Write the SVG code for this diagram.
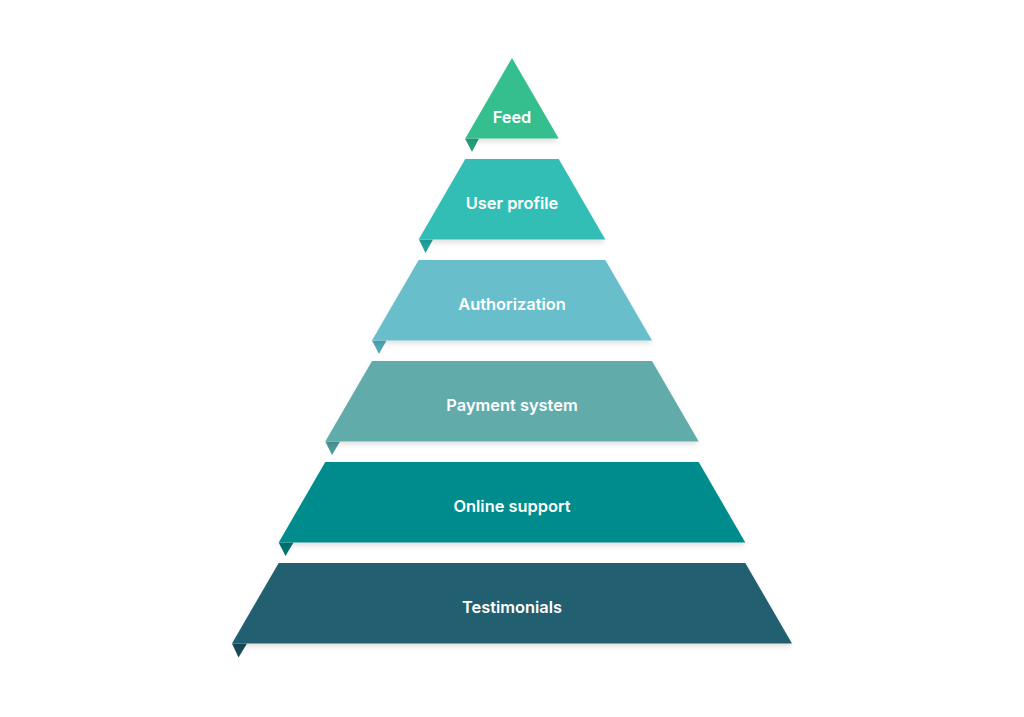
<svg xmlns="http://www.w3.org/2000/svg" width="1024" height="717" viewBox="0 0 1024 717">
<defs>
<filter id="sh" x="-10%" y="-10%" width="120%" height="140%">
<feDropShadow dx="0" dy="3" stdDeviation="2.5" flood-color="#000" flood-opacity="0.12"/>
</filter>
</defs>
<style>
text{font-family:Inter,"Noto Sans","Liberation Sans",sans-serif;font-weight:600;font-size:16.4px;fill:#fff;text-anchor:middle}
.band{filter:url(#sh)}
</style>
<rect width="1024" height="717" fill="#fff"/>
<g id="feed">
<polygon points="479,138.5 472,152 465,138.5" fill="#25A07A"/>
<polygon class="band" points="512,58 558.7,138.5 465.3,138.5" fill="#34BF8F"/>
<text x="512" y="122.5">Feed</text>
</g>
<g id="user-profile">
<polygon points="419,239.5 433,239.5 425.5,253" fill="#22A39C"/>
<polygon class="band" points="465.3,159 558.7,159 605.3,239.5 418.7,239.5" fill="#33BDB5"/>
<text x="512" y="208.5">User profile</text>
</g>
<g id="authorization">
<polygon points="372,340.5 386.5,340.5 379,354" fill="#50A9B6"/>
<polygon class="band" points="418.7,260 605.3,260 652,340.5 372,340.5" fill="#67BFCB"/>
<text x="512" y="309.5">Authorization</text>
</g>
<g id="payment-system">
<polygon points="325.3,441.5 340,441.5 332,455" fill="#4C9999"/>
<polygon class="band" points="372,361 652,361 698.7,441.5 325.3,441.5" fill="#62ABAB"/>
<text x="512" y="410.5">Payment system</text>
</g>
<g id="online-support">
<polygon points="278.7,542.5 293.5,542.5 285.5,556" fill="#007373"/>
<polygon class="band" points="325.3,462 698.7,462 745.3,542.5 278.7,542.5" fill="#008C8C"/>
<text x="512" y="511.5">Online support</text>
</g>
<g id="testimonials">
<polygon points="232,643.5 247,643.5 238.5,657.5" fill="#1A4A59"/>
<polygon class="band" points="278.7,563 745.3,563 792,643.5 232,643.5" fill="#245E6F"/>
<text x="512" y="612.5">Testimonials</text>
</g>
<g id="connectors"/>
</svg>
